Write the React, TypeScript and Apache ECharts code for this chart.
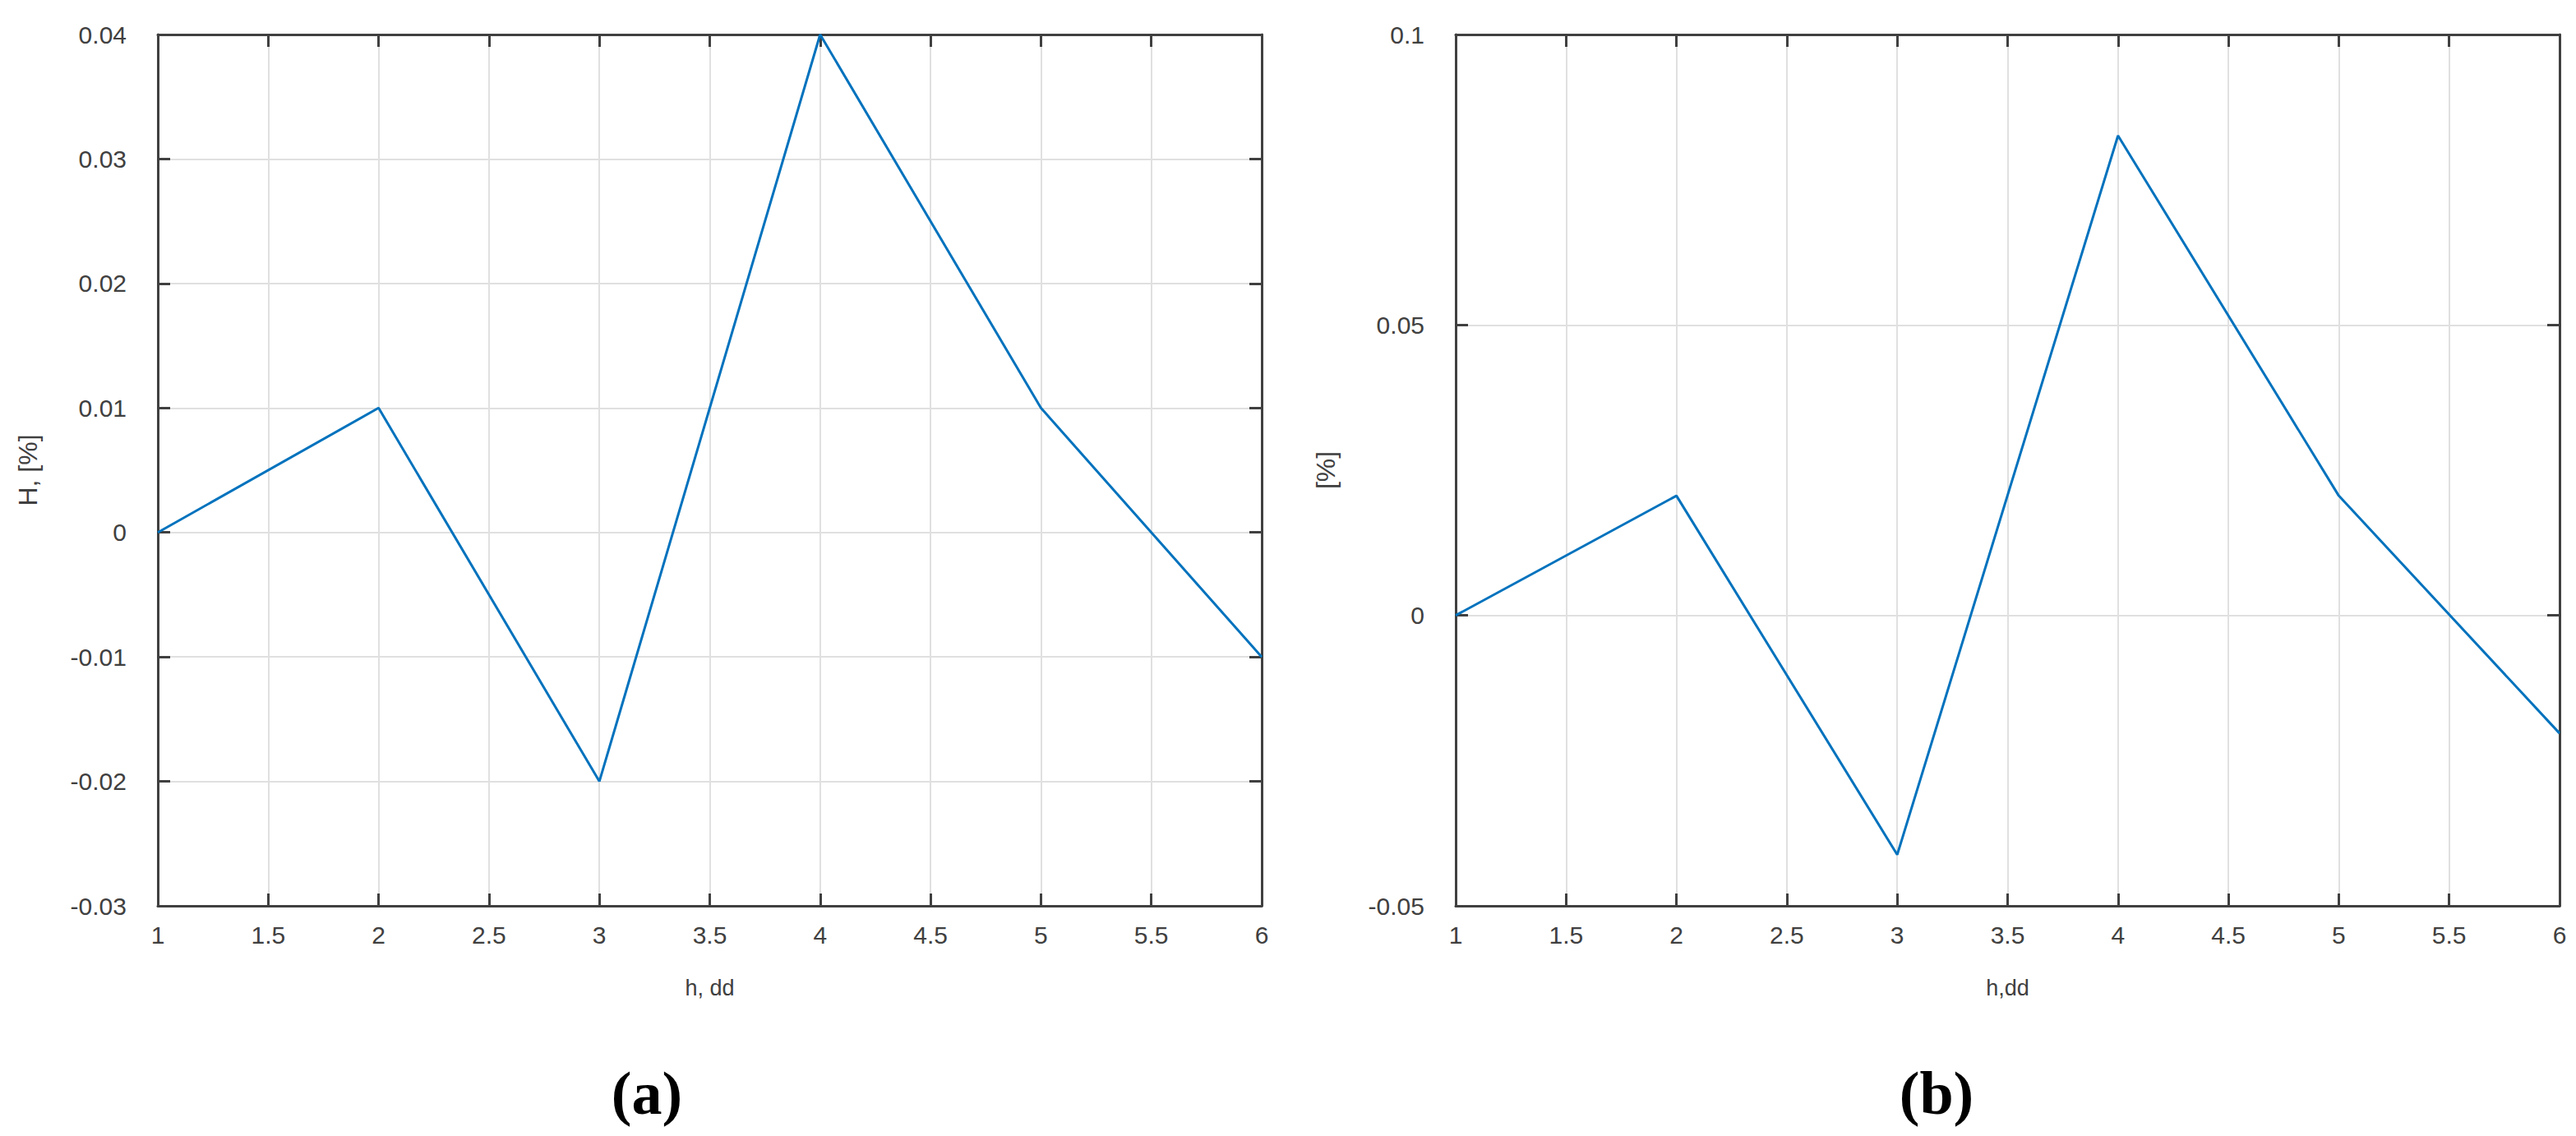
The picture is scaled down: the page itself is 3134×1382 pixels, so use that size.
import React, { useEffect, useRef } from "react";
import * as echarts from "echarts";

// Data
const hValues = [1, 2, 3, 4, 5, 6];
const seriesA = [0, 0.01, -0.02, 0.04, 0.01, -0.01];
const seriesB = [0, 0.0206, -0.0412, 0.0826, 0.0206, -0.0203];

const xTicks = { min: 1, max: 6, interval: 0.5 };
const yTicksA = { min: -0.03, max: 0.04, interval: 0.01 };
const yTicksB = { min: -0.05, max: 0.1, interval: 0.05 };

const axisNamesA = { x: "h, dd", y: "H, [%]" };
const axisNamesB = { x: "h,dd", y: "[%]" };
const captions = ["(a)", "(b)"];

const AXIS_COLOR = "#404040";
const GRID_COLOR = "#e0e0e0";
const LINE_COLOR = "#0072BD";
const FONT = "Liberation Sans, Arial, sans-serif";

function buildAxes(gridIndex: number, xr: any, yr: any, names: any) {
  const common = {
    axisLine: { show: true, onZero: false, lineStyle: { color: AXIS_COLOR, width: 3 } },
    axisTick: { show: true, inside: true, length: 15, lineStyle: { color: AXIS_COLOR, width: 3 } },
  };
  const xMain = {
    type: "value",
    gridIndex,
    position: "bottom",
    min: xr.min,
    max: xr.max,
    interval: xr.interval,
    ...common,
    axisLabel: { show: true, color: AXIS_COLOR, fontSize: 30, fontFamily: FONT, margin: 20 },
    splitLine: { show: true, lineStyle: { color: GRID_COLOR, width: 2 } },
    name: names.x,
    nameLocation: "middle",
    nameGap: 86,
    nameTextStyle: { color: AXIS_COLOR, fontSize: 27, fontFamily: FONT, verticalAlign: "top" },
  };
  const xTop = {
    type: "value",
    gridIndex,
    position: "top",
    min: xr.min,
    max: xr.max,
    interval: xr.interval,
    ...common,
    axisLabel: { show: false },
    splitLine: { show: false },
  };
  const yMain = {
    type: "value",
    gridIndex,
    position: "left",
    min: yr.min,
    max: yr.max,
    interval: yr.interval,
    ...common,
    axisLabel: {
      show: true,
      color: AXIS_COLOR,
      fontSize: 30,
      fontFamily: FONT,
      margin: 38,
      padding: [0, 0, 14, 0],
    },
    splitLine: { show: true, lineStyle: { color: GRID_COLOR, width: 2 } },
    name: names.y,
    nameLocation: "middle",
    nameGap: 142,
    nameTextStyle: { color: AXIS_COLOR, fontSize: 32, fontFamily: FONT },
  };
  const yRight = {
    type: "value",
    gridIndex,
    position: "right",
    min: yr.min,
    max: yr.max,
    interval: yr.interval,
    ...common,
    axisLabel: { show: false },
    splitLine: { show: false },
  };
  return { x: [xMain, xTop], y: [yMain, yRight] };
}

export default function App() {
  const ref = useRef<HTMLDivElement>(null);
  useEffect(() => {
    if (!ref.current) return;
    const chart = echarts.init(ref.current, undefined, { renderer: "svg" });
    const a = buildAxes(0, xTicks, yTicksA, axisNamesA);
    const b = buildAxes(1, xTicks, yTicksB, axisNamesB);
    const dataA = hValues.map((h, i) => [h, seriesA[i]]);
    const dataB = hValues.map((h, i) => [h, seriesB[i]]);
    const option: any = {
      animation: false,
      backgroundColor: "#ffffff",
      grid: [
        { left: 192, top: 42, width: 1343, height: 1060 },
        { left: 1771, top: 42, width: 1343, height: 1060 },
      ],
      xAxis: [...a.x, ...b.x],
      yAxis: [...a.y, ...b.y],
      series: [
        {
          type: "line",
          xAxisIndex: 0,
          yAxisIndex: 0,
          data: dataA,
          symbol: "none",
          lineStyle: { color: LINE_COLOR, width: 3 },
          itemStyle: { color: LINE_COLOR },
        },
        {
          type: "line",
          xAxisIndex: 2,
          yAxisIndex: 2,
          data: dataB,
          symbol: "none",
          lineStyle: { color: LINE_COLOR, width: 3 },
          itemStyle: { color: LINE_COLOR },
        },
      ],
      graphic: [
        {
          type: "text",
          x: 787,
          y: 1330,
          style: {
            text: captions[0],
            fontSize: 74,
            fontWeight: "bold",
            fontFamily: "Liberation Serif, Times New Roman, serif",
            fill: "#000000",
            align: "center",
            verticalAlign: "middle",
          },
        },
        {
          type: "text",
          x: 2356,
          y: 1330,
          style: {
            text: captions[1],
            fontSize: 74,
            fontWeight: "bold",
            fontFamily: "Liberation Serif, Times New Roman, serif",
            fill: "#000000",
            align: "center",
            verticalAlign: "middle",
          },
        },
      ],
    };
    chart.setOption(option);
    return () => chart.dispose();
  }, []);
  return (
    <div
      ref={ref}
      style={{ position: "fixed", left: 0, top: 0, width: 3134, height: 1382, background: "#fff" }}
    />
  );
}
